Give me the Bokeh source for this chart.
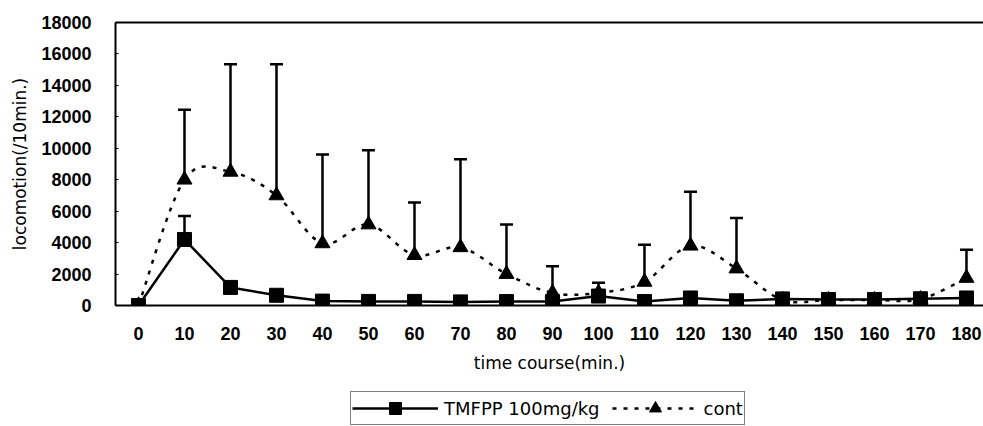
from bokeh.plotting import figure
from bokeh.layouts import column
from bokeh.models import (ColumnDataSource, Whisker, TeeHead, Legend, LegendItem,
                          FixedTicker, LinearAxis, Range1d)
from bokeh.embed import file_html
from bokeh.resources import INLINE

# ---- data ----
time_min = [0, 10, 20, 30, 40, 50, 60, 70, 80, 90, 100, 110, 120, 130, 140, 150, 160, 170, 180]
x_tick_labels = ["0", "10", "20", "30", "40", "50", "60", "70", "80", "90", "100",
                 "110", "120", "130", "140", "150", "160", "170", "180"]
y_ticks = [0, 2000, 4000, 6000, 8000, 10000, 12000, 14000, 16000, 18000]

tmfpp_mean = [0, 4200, 1150, 650, 280, 260, 260, 230, 250, 250, 600, 250, 480, 300, 420, 380, 380, 430, 480]
tmfpp_sd = [0, 1500, 0, 0, 0, 0, 0, 0, 0, 0, 0, 0, 0, 0, 0, 0, 0, 0, 0]
cont_mean = [0, 8000, 8500, 7000, 3950, 5150, 3200, 3700, 2000, 800, 800, 1500, 3800, 2350, 350, 350, 350, 400, 1750]
cont_sd = [0, 4450, 6850, 8350, 5650, 4720, 3350, 5600, 3150, 1700, 640, 2370, 3430, 3220, 0, 0, 0, 0, 1800]

label_tmfpp = "TMFPP 100mg/kg"
label_cont = "cont"

TICK_FONT = "Liberation Sans"
TEXT_FONT = "DejaVu Sans"
LW = 2.5
DASH = "4 7"

p = figure(width=983, height=375, output_backend="svg", toolbar_location=None,
           x_range=Range1d(-5, 183.7), y_range=Range1d(0, 18000),
           min_border_left=115, min_border_top=22, min_border_right=0,
           min_border_bottom=70)
p.grid.visible = False
p.outline_line_color = None
p.background_fill_color = "white"
p.border_fill_color = "white"

# axes
p.xaxis.ticker = FixedTicker(ticks=time_min)
p.xaxis.major_label_overrides = {t: lab for t, lab in zip(time_min, x_tick_labels)}
p.yaxis.ticker = FixedTicker(ticks=y_ticks)
for ax in (p.xaxis[0], p.yaxis[0]):
    ax.axis_line_width = 2
    ax.axis_line_color = "black"
    ax.minor_tick_line_color = None
    ax.major_label_text_font = TICK_FONT
    ax.major_label_text_font_style = "bold"
    ax.major_label_text_font_size = "18px"
    ax.major_label_text_color = "black"
    ax.axis_label_text_font = TEXT_FONT
    ax.axis_label_text_font_style = "normal"
    ax.axis_label_text_font_size = "17px"
    ax.axis_label_text_color = "black"
p.xaxis.major_tick_in = 0
p.xaxis.major_tick_out = 0
p.xaxis.major_label_standoff = 21
p.xaxis.axis_label = "time course(min.)"
p.xaxis.axis_label_standoff = 10
p.yaxis.major_tick_in = 3
p.yaxis.major_tick_out = 0
p.yaxis.major_tick_line_width = 1
p.yaxis.major_label_standoff = 24
p.yaxis.axis_label = "locomotion(/10min.)"
p.yaxis.axis_label_standoff = 8

top_axis = LinearAxis(ticker=FixedTicker(ticks=[]), axis_line_width=2, axis_line_color="black",
                      major_tick_in=0, major_tick_out=0, minor_tick_line_color=None,
                      major_label_text_font_size="0px")
p.add_layout(top_axis, "above")

# ---- cont: smoothed dashed curve (Bezier segments through the data points) ----
n = len(time_min)
bx0, by0, bx1, by1, cx0, cy0, cx1, cy1 = [], [], [], [], [], [], [], []
for i in range(n - 1):
    i0 = max(i - 1, 0)
    i3 = min(i + 2, n - 1)
    X0, Y0 = time_min[i0], cont_mean[i0]
    X1, Y1 = time_min[i], cont_mean[i]
    X2, Y2 = time_min[i + 1], cont_mean[i + 1]
    X3, Y3 = time_min[i3], cont_mean[i3]
    bx0.append(X1); by0.append(Y1); bx1.append(X2); by1.append(Y2)
    cx0.append(X1 + (X2 - X0) / 6.0); cy0.append(Y1 + (Y2 - Y0) / 6.0)
    cx1.append(X2 - (X3 - X1) / 6.0); cy1.append(Y2 - (Y3 - Y1) / 6.0)
curve_src = ColumnDataSource(dict(x0=bx0, y0=by0, x1=bx1, y1=by1, cx0=cx0, cy0=cy0, cx1=cx1, cy1=cy1))
p.bezier(x0="x0", y0="y0", x1="x1", y1="y1", cx0="cx0", cy0="cy0", cx1="cx1", cy1="cy1",
         source=curve_src, line_color="black", line_width=LW, line_dash=DASH)

cont_src = ColumnDataSource(dict(x=time_min, y=cont_mean))
p.scatter("x", "y", source=cont_src, marker="triangle", size=15,
          fill_color="black", line_color="black")

cont_err_idx = [i for i in range(n) if cont_sd[i] > 0]
cont_err_src = ColumnDataSource(dict(
    x=[time_min[i] for i in cont_err_idx],
    y=[cont_mean[i] for i in cont_err_idx],
    upper=[cont_mean[i] + cont_sd[i] for i in cont_err_idx]))
p.add_layout(Whisker(source=cont_err_src, base="x", upper="upper", lower="y",
                     upper_head=TeeHead(size=13, line_width=LW, line_color="black"),
                     lower_head=None, line_width=LW, line_color="black"))

# ---- TMFPP: solid line with squares ----
tm_src = ColumnDataSource(dict(x=time_min, y=tmfpp_mean))
p.line("x", "y", source=tm_src, line_color="black", line_width=LW)
p.scatter("x", "y", source=tm_src, marker="square", size=14,
          fill_color="black", line_color="black")

tm_err_idx = [i for i in range(n) if tmfpp_sd[i] > 0]
tm_err_src = ColumnDataSource(dict(
    x=[time_min[i] for i in tm_err_idx],
    y=[tmfpp_mean[i] for i in tm_err_idx],
    upper=[tmfpp_mean[i] + tmfpp_sd[i] for i in tm_err_idx]))
p.add_layout(Whisker(source=tm_err_src, base="x", upper="upper", lower="y",
                     upper_head=TeeHead(size=13, line_width=LW, line_color="black"),
                     lower_head=None, line_width=LW, line_color="black"))

# ---- legend strip below the chart (hidden proxy renderers of the same series) ----
lg = figure(width=983, height=51, output_backend="svg", toolbar_location=None,
            x_range=Range1d(0, 1), y_range=Range1d(0, 1),
            min_border_left=0, min_border_right=0, min_border_top=0, min_border_bottom=0)
lg.axis.visible = False
lg.grid.visible = False
lg.outline_line_color = None
lg.background_fill_color = "white"
lg.border_fill_color = "white"
tm_line_proxy = lg.line("x", "y", source=tm_src, line_color="black", line_width=LW, visible=False)
tm_pt_proxy = lg.scatter("x", "y", source=tm_src, marker="square",
                         fill_color="black", line_color="black", visible=False)
cont_line_proxy = lg.line("x", "y", source=cont_src, line_color="black", line_width=LW,
                          line_dash=DASH, visible=False)
cont_pt_proxy = lg.scatter("x", "y", source=cont_src, marker="triangle",
                           fill_color="black", line_color="black", visible=False)

legend = Legend(items=[LegendItem(label=label_tmfpp, renderers=[tm_line_proxy, tm_pt_proxy]),
                       LegendItem(label=label_cont, renderers=[cont_line_proxy, cont_pt_proxy])],
                orientation="horizontal", location=(235, 1),
                glyph_width=86, glyph_height=30, label_standoff=6, spacing=12,
                padding=1, margin=0, label_height=20,
                label_text_font=TEXT_FONT, label_text_font_size="18px",
                label_text_color="black",
                border_line_color="black", border_line_width=1,
                background_fill_color="white", background_fill_alpha=1)
lg.add_layout(legend, "center")

layout = column(p, lg, spacing=0)
open("out.html", "w").write(file_html(layout, INLINE))
